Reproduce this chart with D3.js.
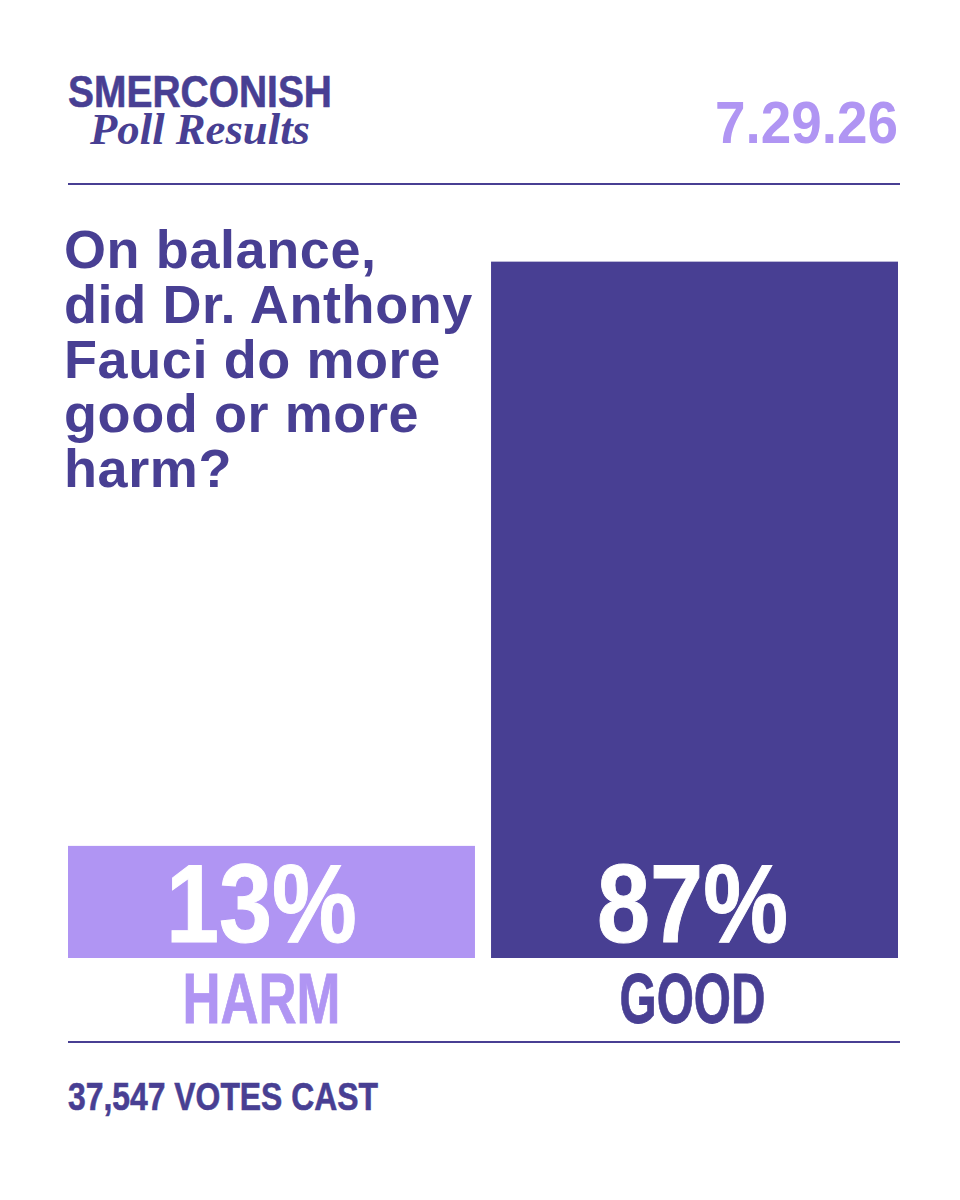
<!DOCTYPE html>
<html>
<head>
<meta charset="utf-8">
<script src="https://cdn.jsdelivr.net/npm/d3@7"></script>
<style>
  body { margin: 0; background: #fff; }
  svg { display: block; }
</style>
</head>
<body>
<div id="chart"></div>
<script>
const categories = ["HARM", "GOOD"];
const shares = [13, 87];
const questionLines = ["On balance,", "did Dr. Anthony", "Fauci do more", "good or more", "harm?"];
const pollDate = "7.29.26";
const votesCast = "37,547 VOTES CAST";

const dark = "#483f93";
const light = "#b095f3";

const drawChart = () => {
    const width = 960, height = 1200;
    const left = 68, right = 898;
    const baseline = 958;

    const svg = d3.select("#chart")
        .append("svg")
        .attr("width", width)
        .attr("height", height);

    svg.append("rect").attr("width", width).attr("height", height).attr("fill", "#fff");

    // Scales
    const x = d3.scaleBand().domain(categories).range([left, right]).paddingInner(0.038);
    const y = d3.scaleLinear().domain([-1.2, 100]).range([baseline, 159]);
    const color = d3.scaleOrdinal().domain(categories).range([light, dark]);

    const data = categories.map((c, i) => ({ cat: c, value: shares[i] }));
    // the left column's labels sit a little left of the bar centre
    const labelShift = c => (c === categories[0] ? -10 : -2);

    // Header
    svg.append("text")
        .attr("x", left).attr("y", 107)
        .attr("font-family", "'Liberation Sans Narrow', 'Liberation Sans', Arial, sans-serif")
        .attr("font-weight", "bold")
        .attr("font-size", 44)
        .attr("textLength", 264)
        .attr("lengthAdjust", "spacingAndGlyphs")
        .attr("stroke", dark)
        .attr("stroke-width", 0.6)
        .attr("fill", dark)
        .text("SMERCONISH");

    svg.append("text")
        .attr("x", 90).attr("y", 144)
        .attr("font-family", "'Liberation Serif', 'DejaVu Serif', serif")
        .attr("font-style", "italic")
        .attr("font-weight", "bold")
        .attr("font-size", 44)
        .attr("textLength", 220)
        .attr("lengthAdjust", "spacingAndGlyphs")
        .attr("fill", dark)
        .text("Poll Results");

    svg.append("text")
        .attr("x", right).attr("y", 143)
        .attr("text-anchor", "end")
        .attr("font-family", "'Liberation Sans', Arial, sans-serif")
        .attr("font-weight", "bold")
        .attr("font-size", 60)
        .attr("textLength", 183)
        .attr("lengthAdjust", "spacingAndGlyphs")
        .attr("fill", light)
        .text(pollDate);

    // Rules
    [184, 1042].forEach(ry => {
        svg.append("line")
            .attr("x1", left).attr("x2", 900)
            .attr("y1", ry).attr("y2", ry)
            .attr("stroke", dark)
            .attr("stroke-width", 2);
    });

    // Question
    svg.append("g")
        .selectAll("text")
        .data(questionLines)
        .join("text")
        .attr("x", 64)
        .attr("y", (d, i) => 268 + i * 54.8)
        .attr("font-family", "'Liberation Sans', Arial, sans-serif")
        .attr("font-weight", "bold")
        .attr("font-size", 54)
        .attr("letter-spacing", 0.6)
        .attr("fill", dark)
        .text(d => d);

    // Bars
    svg.append("g")
        .selectAll("rect")
        .data(data)
        .join("rect")
        .attr("x", d => x(d.cat))
        .attr("width", x.bandwidth())
        .attr("y", d => y(d.value))
        .attr("height", d => baseline - y(d.value))
        .attr("fill", d => color(d.cat));

    // Value labels
    svg.append("g")
        .selectAll("text")
        .data(data)
        .join("text")
        .attr("x", d => x(d.cat) + x.bandwidth() / 2 + labelShift(d.cat))
        .attr("y", 942)
        .attr("text-anchor", "middle")
        .attr("font-family", "'Liberation Sans Narrow', 'Liberation Sans', Arial, sans-serif")
        .attr("font-weight", "bold")
        .attr("font-size", 112)
        .attr("textLength", 191)
        .attr("lengthAdjust", "spacingAndGlyphs")
        .attr("stroke", "#fff")
        .attr("stroke-width", 1)
        .attr("fill", "#fff")
        .text(d => d.value + "%");

    // Category labels
    svg.append("g")
        .selectAll("text")
        .data(data)
        .join("text")
        .attr("x", d => x(d.cat) + x.bandwidth() / 2 + labelShift(d.cat))
        .attr("y", 1023)
        .attr("text-anchor", "middle")
        .attr("font-family", "'Liberation Sans Narrow', 'Liberation Sans', Arial, sans-serif")
        .attr("font-weight", "bold")
        .attr("font-size", 70)
        .attr("textLength", d => d.cat === "HARM" ? 158 : 146)
        .attr("lengthAdjust", "spacingAndGlyphs")
        .attr("stroke", d => color(d.cat))
        .attr("stroke-width", 0.8)
        .attr("fill", d => color(d.cat))
        .text(d => d.cat);

    // Footer
    svg.append("text")
        .attr("x", left).attr("y", 1110)
        .attr("font-family", "'Liberation Sans Narrow', 'Liberation Sans', Arial, sans-serif")
        .attr("font-weight", "bold")
        .attr("font-size", 39)
        .attr("textLength", 310)
        .attr("lengthAdjust", "spacingAndGlyphs")
        .attr("stroke", dark)
        .attr("stroke-width", 0.6)
        .attr("fill", dark)
        .text(votesCast);
};

drawChart();
</script>
</body>
</html>
